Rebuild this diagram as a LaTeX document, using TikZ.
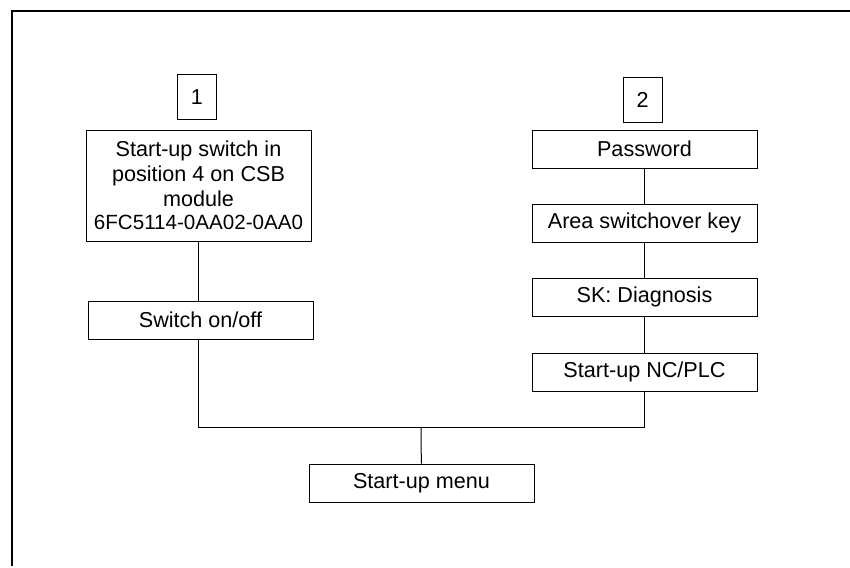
\documentclass[tikz,border=0pt]{standalone}
\usepackage{fontspec}
\setmainfont{Liberation Sans}
\usetikzlibrary{positioning}
\tikzset{
    block/.style={
           rectangle,
           draw=black, line width=0.5pt,
           minimum width=112.5pt,
           minimum height=19pt,
           inner sep=1pt,
           text centered,
           font=\fontsize{10.8}{12.5}\selectfont,
           },
    numbox/.style={
           block,
           minimum width=19.5pt,
           minimum height=22.5pt,
           },
}
\begin{document}
\begin{tikzpicture}[x=0.5pt, y=-0.5pt, line width=0.5pt]
  \useasboundingbox (0,0) rectangle (850,567);
  % frame
  \draw[line width=0.8pt] (12,566) -- (12,11) -- (850,11);
  % left branch
  \node[numbox]                   (N1)  at (197, 97)    {1};
  \node[block, minimum height=55.5pt, align=center]
                                  (CSB) at (198.5,185.5) {Start-up switch in\\position 4 on CSB\\module\\[-1pt]{\fontsize{10.3}{12}\selectfont 6FC5114-0AA02-0AA0}};
  \node[block]                    (ON)  at (200.5, 320) {Switch on/off};
  % right branch
  \node[numbox]                   (N2)  at (642.5,100)  {2};
  \node[block]                    (PW)  at (644.5,149)  {Password};
  \node[block]                    (AK)  at (644.5,223)  {Area switchover key};
  \node[block]                    (SK)  at (644.5,297)  {SK: Diagnosis};
  \node[block]                    (NC)  at (644.5,372)  {Start-up NC/PLC};
  % result
  \node[block]                    (MN)  at (421.5,483)  {Start-up menu};
  \coordinate                     (J)   at (421,427);
  \draw (CSB.south) -- (CSB.south |- ON.north);
  \draw (CSB.south |- ON.south) -- (CSB.south |- J) -- (J -| NC.south) -- (NC.south);
  \draw (PW) -- (AK);
  \draw (AK) -- (SK);
  \draw (SK) -- (NC);
  \draw (J)  -- (MN);
\end{tikzpicture}
\end{document}
